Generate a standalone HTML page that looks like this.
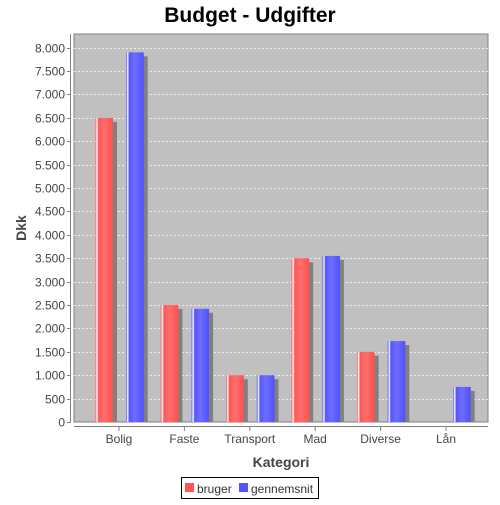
<!DOCTYPE html>
<html><head><meta charset="utf-8"><style>
body{margin:0;background:#fff;font-family:"Liberation Sans",sans-serif;}
svg text{font-family:"Liberation Sans",sans-serif;}
</style></head><body>
<svg id="chart" width="500" height="500" xmlns="http://www.w3.org/2000/svg">
<defs>
<linearGradient id="gr" x1="0" x2="1" y1="0" y2="0">
<stop offset="0" stop-color="#ff5555"/><stop offset="0.1" stop-color="#ffffff"/><stop offset="0.18" stop-color="#ff5555"/><stop offset="0.5" stop-color="#ff6e6e"/><stop offset="1" stop-color="#ff5050"/></linearGradient>
<linearGradient id="gb" x1="0" x2="1" y1="0" y2="0">
<stop offset="0" stop-color="#5555ff"/><stop offset="0.1" stop-color="#ffffff"/><stop offset="0.18" stop-color="#5555ff"/><stop offset="0.5" stop-color="#6e6eff"/><stop offset="1" stop-color="#5050ff"/></linearGradient>
<clipPath id="pc"><rect x="74" y="34" width="414" height="388"/></clipPath>
</defs>
<text x="250" y="22" text-anchor="middle" font-size="21" font-weight="bold" fill="#000">Budget - Udgifter</text>
<rect x="74" y="34" width="414" height="388" fill="#c0c0c0" stroke="#808080" stroke-width="1"/>
<g id="grid"></g>
<g id="bars" clip-path="url(#pc)"></g>
<line x1="70.5" y1="34" x2="70.5" y2="422" stroke="#808080"/>
<line x1="74" y1="426.5" x2="488" y2="426.5" stroke="#808080"/>
<g id="yt"></g><g id="xt"></g>
<text x="26" y="228" transform="rotate(-90 26 228)" text-anchor="middle" font-size="14" font-weight="bold" fill="#444">Dkk</text>
<text x="281" y="467" text-anchor="middle" font-size="14" font-weight="bold" fill="#444">Kategori</text>
<g>
<rect x="181.5" y="477.5" width="137" height="21" fill="#fff" stroke="#000"/>
<rect x="185" y="483" width="9" height="9" fill="#ff5555"/>
<text x="197" y="493" font-size="12" fill="#333">bruger</text>
<rect x="239" y="483" width="9" height="9" fill="#5555ff"/>
<text x="251" y="493" font-size="12" fill="#333">gennemsnit</text>
</g>
</svg>
<script>
const categories=["Bolig","Faste","Transport","Mad","Diverse","Lån"];
const bruger=[6500,2500,1000,3500,1500,0];
const gennemsnit=[7900,2420,1000,3550,1730,750];
const yTicks=[0,500,1000,1500,2000,2500,3000,3500,4000,4500,5000,5500,6000,6500,7000,7500,8000];
const yTickLabels=["0","500","1.000","1.500","2.000","2.500","3.000","3.500","4.000","4.500","5.000","5.500","6.000","6.500","7.000","7.500","8.000"];
const NS="http://www.w3.org/2000/svg";
const y=v=>422-v*(422-47.7)/8000;
const xc=i=>119+i*65.4;
function mk(t,a,p){const e=document.createElementNS(NS,t);for(const k in a)e.setAttribute(k,a[k]);p.appendChild(e);return e;}
const grid=document.getElementById('grid'),yt=document.getElementById('yt'),xt=document.getElementById('xt'),bars=document.getElementById('bars');
yTicks.forEach((v,i)=>{
  const yy=Math.round(y(v))+0.5;
  if(v>0){const g=mk('line',{x1:74,x2:488,y1:yy,y2:yy,stroke:'#ffffff','stroke-dasharray':'2,2','stroke-width':0.8},grid);
  
  }
  mk('line',{x1:67,x2:71,y1:yy,y2:yy,stroke:'#808080'},yt);
  const t=mk('text',{x:65,y:yy+4,'text-anchor':'end','font-size':12,fill:'#444'},yt);
  t.textContent=yTickLabels[i];
  
  
});
categories.forEach((c,i)=>{
  const cx=xc(i);
  mk('line',{x1:cx,x2:cx,y1:427,y2:431,stroke:'#808080'},xt);
  const t=mk('text',{x:cx,y:443,'text-anchor':'middle','font-size':12,fill:'#444'},xt);
  t.textContent=c;
  
  
  [[bruger,'url(#gr)',cx-23.7],[gennemsnit,'url(#gb)',cx+7]].forEach(([arr,fill,x0],s)=>{
    const v=arr[i]; if(v<=0) return;
    const top=y(v);
    mk('rect',{x:x0+4,y:top+4,width:17.7,height:422-top,fill:'#808080'},bars);
    const r=mk('rect',{x:x0,y:top,width:17.7,height:422-top,fill:fill},bars);
    
    
  });
});
</script>
</body></html>
